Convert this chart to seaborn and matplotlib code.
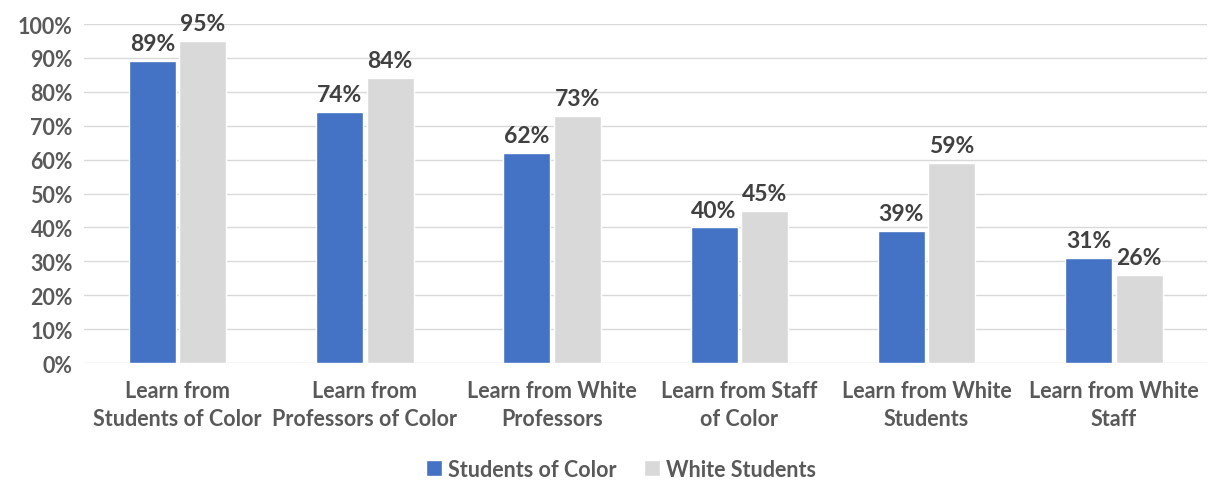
import matplotlib
matplotlib.use("Agg")
import matplotlib.pyplot as plt
import seaborn as sns
import pandas as pd
from matplotlib.ticker import PercentFormatter

categories = [
    "Learn from\nStudents of Color",
    "Learn from\nProfessors of Color",
    "Learn from White\nProfessors",
    "Learn from Staff\nof Color",
    "Learn from White\nStudents",
    "Learn from White\nStaff",
]
students_of_color = [89, 74, 62, 40, 39, 31]
white_students = [95, 84, 73, 45, 59, 26]
series = ["Students of Color", "White Students"]
colors = ["#4472C4", "#D9D9D9"]

df = pd.DataFrame({
    "category": categories * 2,
    "group": [series[0]] * 6 + [series[1]] * 6,
    "value": [v / 100 for v in students_of_color + white_students],
})

sns.set_style("white")
plt.rcParams["font.family"] = ["Lato", "DejaVu Sans"]
plt.rcParams["font.weight"] = "bold"

fig = plt.figure(figsize=(12.08, 4.81), dpi=100)
ax = fig.add_axes([0.0695, 0.243, 0.93, 0.705])

sns.barplot(data=df, x="category", y="value", hue="group", palette=colors,
            saturation=1, width=0.54, gap=0.07, ax=ax, legend=True)

ax.set_ylim(0, 1)
ax.set_xlim(-0.5, 5.5)
ax.set_yticks([i / 10 for i in range(11)])
ax.yaxis.set_major_formatter(PercentFormatter(1.0, decimals=0))
ax.grid(axis="y", color="#D9D9D9", linewidth=1)
ax.set_axisbelow(True)
for s in ax.spines.values():
    s.set_visible(False)
ax.set_xlabel("")
ax.set_ylabel("")
ax.tick_params(axis="both", length=0, labelcolor="#595959")
ax.tick_params(axis="x", pad=12)
ax.tick_params(axis="y", pad=8)
for lab in ax.get_xticklabels() + ax.get_yticklabels():
    lab.set_fontweight("bold")
    lab.set_fontsize(15.5)
for lab in ax.get_xticklabels():
    lab.set_linespacing(1.45)

for cont in ax.containers:
    ax.bar_label(cont, labels=[f"{round(b.get_height() * 100)}%" for b in cont],
                 padding=5, color="#404040", fontsize=16.5, fontweight="bold")

ax.legend(loc="center", bbox_to_anchor=(0.478, -0.313), ncol=2, frameon=False,
          handlelength=0.75, handleheight=0.75, handletextpad=0.25, columnspacing=1.3,
          prop={"size": 15.5, "weight": "bold"}, labelcolor="#595959")

fig.savefig("out.png", dpi=100)
